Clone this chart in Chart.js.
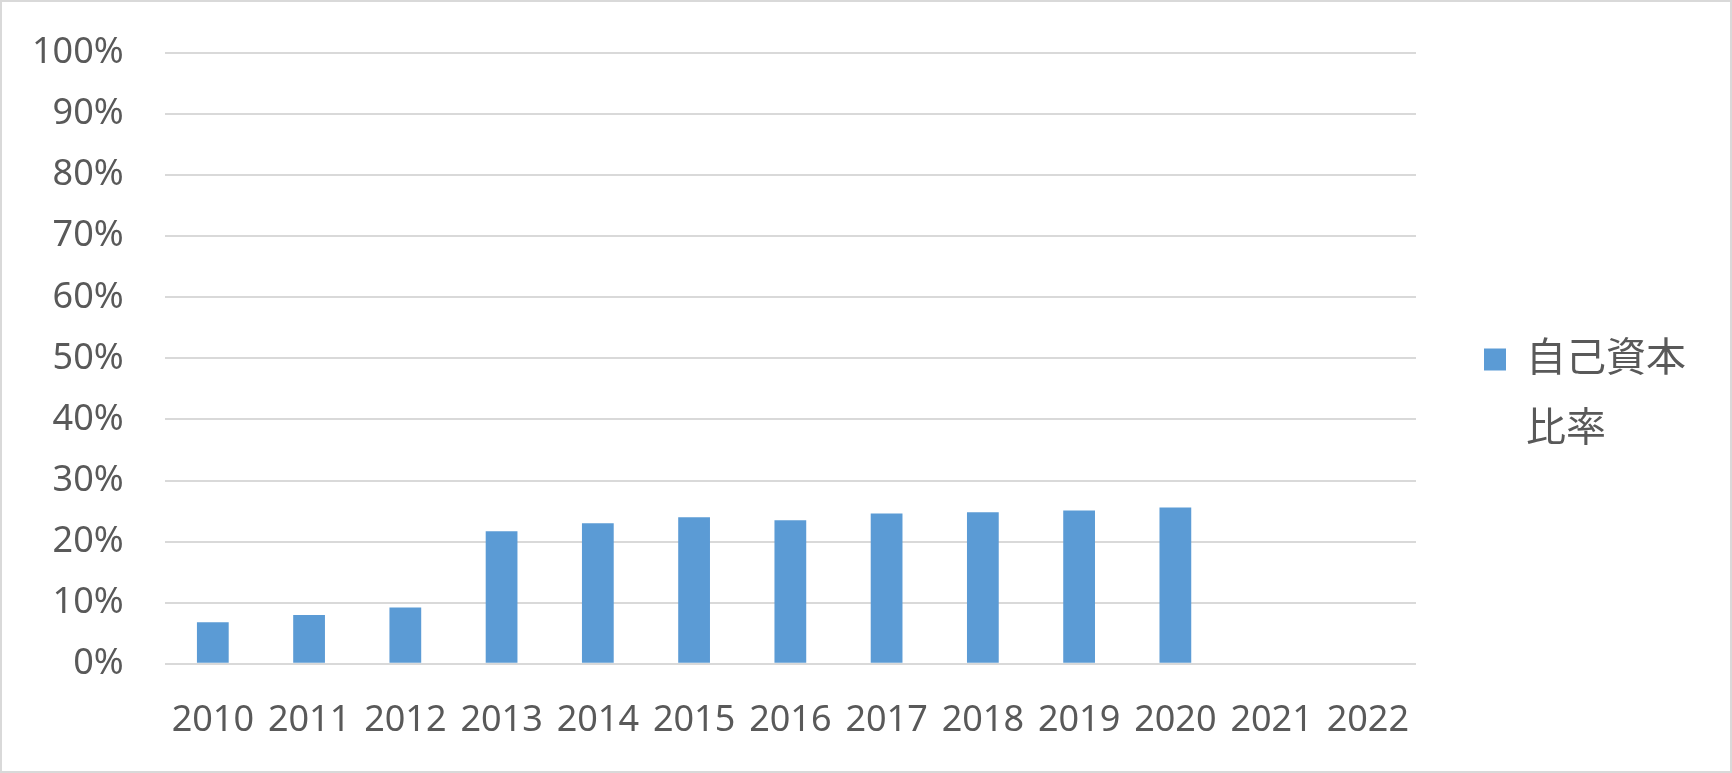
<!DOCTYPE html>
<html>
<head>
<meta charset="utf-8">
<script src="https://cdn.jsdelivr.net/npm/chart.js@4"></script>
<style>
  html, body { margin: 0; padding: 0; background: #fff; }
  #wrap {
    width: 1732px; height: 773px; box-sizing: border-box;
    border: 2px solid #d9d9d9; position: relative;
  }
</style>
</head>
<body>
<div id="wrap"><canvas id="myChart"></canvas></div>
<script>
// Data
const years = ['2010', '2011', '2012', '2013', '2014', '2015', '2016',
               '2017', '2018', '2019', '2020', '2021', '2022'];
const equityRatio = [6.8, 8.0, 9.2, 21.7, 23.0, 24.0, 23.5,
                     24.6, 24.8, 25.1, 25.6, null, null];
const seriesLabel = ['自己資本', '比率'];

const textColor = '#595959';
const barColor = '#5b9bd5';
const fontFamily = "'Noto Sans', 'Noto Sans CJK JP', sans-serif";

// Configuration
const config = {
    type: 'bar',
    data: {
        labels: years,
        datasets: [{
            label: seriesLabel.join(''),
            data: equityRatio,
            backgroundColor: barColor,
            borderWidth: 0,
            categoryPercentage: 1,
            barPercentage: 0.33
        }]
    },
    options: {
        responsive: true,
        maintainAspectRatio: false,
        animation: false,
        layout: {
            padding: { left: 27, top: 51, right: 34, bottom: 26 }
        },
        scales: {
            x: {
                // invisible tick marks give the gap under the axis
                grid: { display: true, drawOnChartArea: false, color: 'rgba(0,0,0,0)', tickLength: 32 },
                border: { display: false },
                ticks: {
                    color: textColor,
                    padding: 3,
                    maxRotation: 0,
                    font: { family: fontFamily, size: 36 }
                }
            },
            y: {
                min: 0,
                max: 100,
                border: { display: false },
                grid: { color: '#d9d9d9', lineWidth: 2, tickLength: 38, tickColor: 'rgba(0,0,0,0)' },
                ticks: {
                    stepSize: 10,
                    color: textColor,
                    padding: 3,
                    font: { family: fontFamily, size: 36 },
                    callback: v => v + '%'
                }
            }
        },
        plugins: {
            tooltip: { enabled: false },
            legend: {
                position: 'right',
                align: 'center',
                // empty title only pushes the entry down a little
                title: { display: true, text: ' ', padding: { top: 9, bottom: 0 }, font: { size: 12, lineHeight: 1 } },
                labels: {
                    color: textColor,
                    boxWidth: 22,
                    boxHeight: 22,
                    padding: 68,
                    font: { family: fontFamily, size: 40, lineHeight: 1.75 },
                    generateLabels: chart => [{
                        text: seriesLabel,
                        fillStyle: barColor,
                        strokeStyle: barColor,
                        fontColor: textColor,
                        lineWidth: 0,
                        datasetIndex: 0
                    }]
                }
            }
        }
    }
};

// Create chart
new Chart(document.getElementById('myChart'), config);
</script>
</body>
</html>
